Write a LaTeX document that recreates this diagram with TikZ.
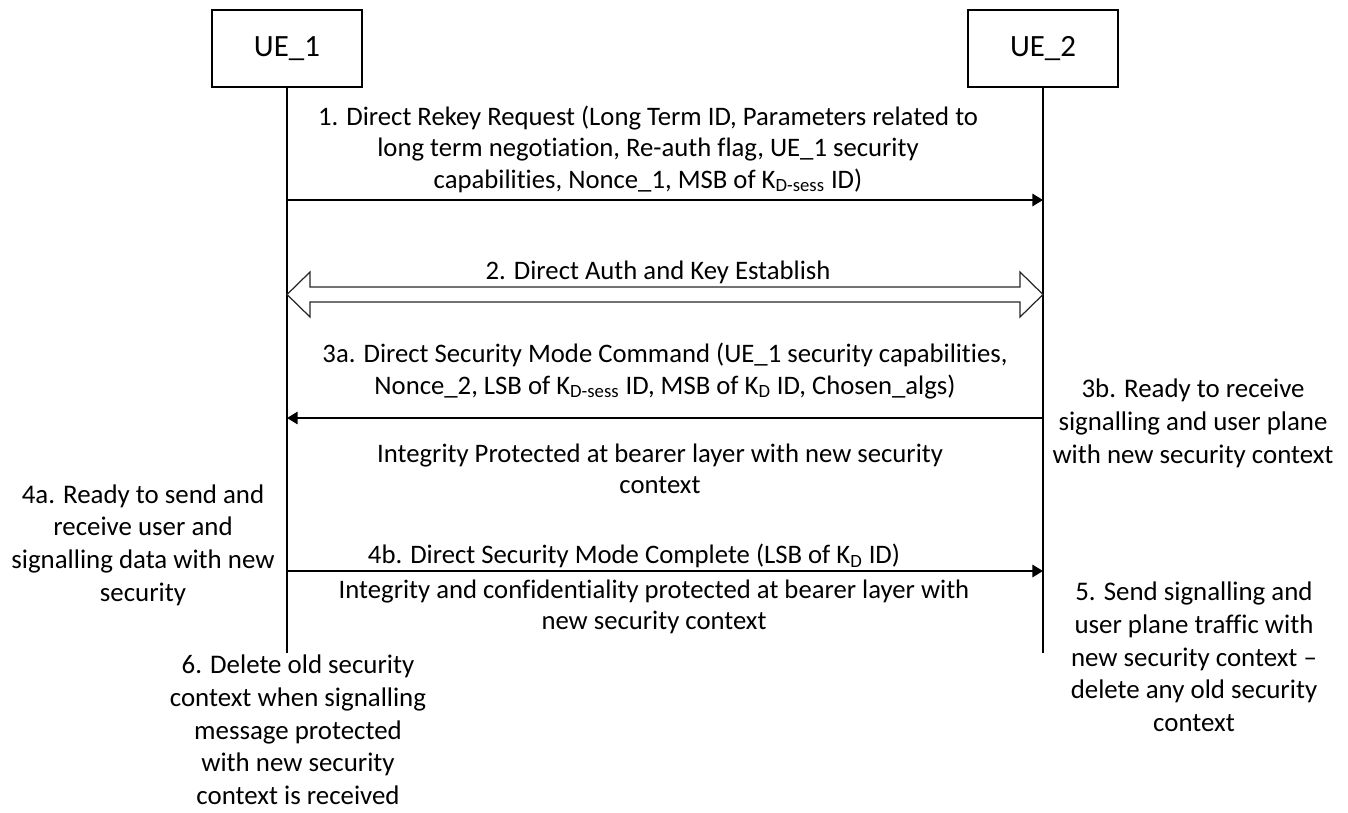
\documentclass[tikz,border=0pt]{standalone}
\usepackage{fontspec}
\setmainfont{Carlito}[Ligatures=NoCommon]
\usetikzlibrary{arrows.meta,positioning,calc}

\begin{document}
\begin{tikzpicture}[x=0.02cm,y=-0.02cm,
        entity/.style={draw,line width=0.9pt,minimum width=3cm,minimum height=1.54cm,font=\fontsize{17.6}{21}\selectfont},
        msgtext/.style={align=center,inner sep=0pt,font=\fontsize{15.2}{17.9}\selectfont},
        sidetext/.style={align=center,inner sep=0pt,font=\fontsize{15.3}{18.6}\selectfont},
        msg/.style={line width=1.1pt,-{Triangle[length=6pt,width=7pt]}},
        life/.style={line width=0.8pt}]
    \useasboundingbox (0,0) rectangle (1348,812);

    % the two UEs and their lifelines
    \node [entity] (ue1) at (287,48.5) {UE\_1};
    \node [entity] (ue2) at (1043,48.5) {UE\_2};
    \coordinate (ue1end) at (287,653);
    \coordinate (ue2end) at (1043,653);
    \draw [life] (ue1) -- (ue1end);
    \draw [life] (ue2) -- (ue2end);

    % message levels on both lifelines
    \foreach \m/\y in {m1/200,m2/294.5,m3/418,m4/571}
    {
        \coordinate (\m-l) at (287,\y);
        \coordinate (\m-r) at (1043,\y);
    }

    % 1.
    \node [msgtext] (t1) at (648,149) {1. Direct Rekey Request (Long Term ID, Parameters related to\\
        long term negotiation, Re-auth flag, UE\_1 security\\
        capabilities, Nonce\_1, MSB of K\textsubscript{D-sess} ID)};
    \draw [msg] (m1-l) -- (m1-r);

    % 2.
    \node [msgtext] (t2) at (658,272) {2. Direct Auth and Key Establish};
    \draw [line width=0.7pt,black!85] (m2-l) -- ++(23,-22.5) -- ++(0,15) -- ($(m2-r)+(-23,-7.5)$) -- ++(0,-15)
        -- (m2-r) -- ++(-23,22.5) -- ++(0,-15) -- ($(m2-l)+(23,7.5)$) -- ++(0,15) -- cycle;

    % 3a. / 3b.
    \node [msgtext] (t3a) at (665,371) {3a. Direct Security Mode Command (UE\_1 security capabilities,\\
        Nonce\_2, LSB of K\textsubscript{D-sess} ID, MSB of K\textsubscript{D} ID, Chosen\_algs)};
    \draw [msg] (m3-r) -- (m3-l);
    \node [msgtext] (ip) at (660,469) {Integrity Protected at bearer layer with new security\\ context};
    \node [sidetext] (t3b) at (1193,423.5) {3b. Ready to receive\\ signalling and user plane\\ with new security context};

    % 4a. / 4b.
    \node [sidetext] (t4a) at (143,545) {4a. Ready to send and\\ receive user and\\ signalling data with new\\ security};
    \node [msgtext] (t4b) at (634,556) {4b. Direct Security Mode Complete (LSB of K\textsubscript{D} ID)};
    \draw [msg] (m4-l) -- (m4-r);
    \node [msgtext] (icp) at (654,607) {Integrity and confidentiality protected at bearer layer with\\ new security context};

    % 5. / 6.
    \node [sidetext] (t5) at (1194,657) {5. Send signalling and\\ user plane traffic with\\ new security context --\\ delete any old security\\ context};
    \node [sidetext] (t6) at (298,730) {6. Delete old security\\ context when signalling\\ message protected\\ with new security\\ context is received};
\end{tikzpicture}
\end{document}
